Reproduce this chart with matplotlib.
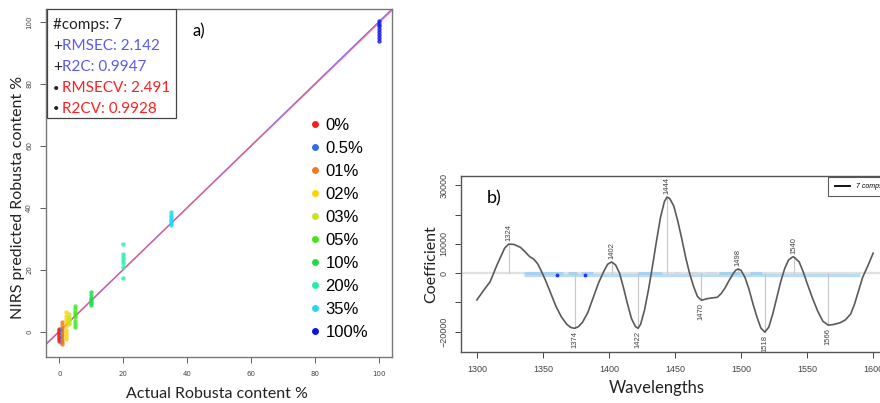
import matplotlib
matplotlib.use("Agg")
import matplotlib.pyplot as plt
from matplotlib.lines import Line2D
from matplotlib.patches import Rectangle

# --- panel a: predicted vs actual ---
conc_labels = ["0%", "0.5%", "01%", "02%", "03%", "05%", "10%", "20%", "35%", "100%"]
conc_actual = [0, 0.5, 1, 2, 3, 5, 10, 20, 35, 100]
conc_colors = ["#ff1a1a", "#2f6fe0", "#f57a1c", "#ffd200", "#c4e81c", "#3ee81a",
               "#1fdc48", "#1ff0a8", "#1fd8f5", "#1010e8"]
pred_0 = [-3.0, -2.5, -2.0, -1.5, -1.0, -0.5, 0.0, 0.5, 1.0]
pred_05 = [-3.2, -2.6, -2.0, -1.4, -0.8, -0.2, 0.4, 0.9]
pred_1 = [-3.9, -3.2, -2.4, -1.2, 0.0, 1.2, 2.2, 3.2]
pred_2 = [-2.5, -1.5, -0.5, 0.5, 1.8, 3.0, 4.0, 5.0, 6.3]
pred_3 = [2.3, 3.0, 3.6, 4.2, 4.8, 5.6]
pred_5 = [1.6, 2.4, 3.4, 4.6, 5.6, 6.4, 7.2, 8.3]
pred_10 = [8.5, 9.2, 9.8, 10.4, 11.0, 11.8, 12.8]
pred_20 = [17.4, 21.0, 22.0, 23.0, 24.0, 25.2, 28.2]
pred_35 = [34.5, 35.2, 35.8, 36.4, 37.0, 37.7, 38.5]
pred_100 = [93.8, 94.8, 95.8, 96.8, 97.8, 98.8, 99.5, 100.3]
pred_values = [pred_0, pred_05, pred_1, pred_2, pred_3, pred_5, pred_10, pred_20, pred_35, pred_100]

stats_text = ["#comps: 7", "RMSEC: 2.142", "R2C: 0.9947", "RMSECV: 2.491", "R2CV: 0.9928"]
stats_prefix = ["", "+", "+", "\u2022", "\u2022"]
stats_colors = ["#222222", "#5a5aee", "#5a5aee", "#ff2020", "#ff2020"]

# --- panel b: regression coefficients ---
wavelength = [1300, 1305, 1310, 1315, 1318, 1321, 1324, 1328, 1333, 1336, 1340, 1343, 1346, 1349,
              1352, 1356, 1360, 1364, 1368, 1371, 1374, 1377, 1380, 1384, 1388, 1392, 1396, 1399,
              1402, 1405, 1408, 1411, 1414, 1417, 1420, 1422, 1424, 1427, 1430, 1433, 1436, 1439,
              1442, 1444, 1446, 1449, 1452, 1455, 1458, 1461, 1464, 1467, 1470, 1474, 1478, 1482,
              1485, 1488, 1491, 1494, 1496, 1498, 1500, 1503, 1506, 1509, 1512, 1515, 1518, 1521,
              1524, 1527, 1530, 1533, 1536, 1539, 1540, 1544, 1547, 1550, 1554, 1558, 1562, 1566,
              1570, 1575, 1579, 1583, 1586, 1589, 1592, 1596, 1600]
coef = [-9200, -6000, -3000, 2500, 5500, 8500, 9900, 9800, 8800, 7500, 5600, 4800, 3200, 500,
        -2500, -7000, -11500, -15000, -17500, -18600, -18900, -18300, -16800, -13500, -8500, -3500, 500, 3000,
        3800, 2800, 0, -5000, -10500, -15500, -18300, -18900, -17500, -12500, -5500, 2500, 11000, 19000,
        24500, 26000, 25500, 23000, 18000, 12000, 5500, 0, -4500, -8000, -9300, -8800, -8500, -8300,
        -7000, -5000, -2500, -200, 1000, 1400, 900, -1500, -5500, -10500, -15000, -18800, -20200, -18500,
        -14000, -8500, -3000, 1500, 4500, 5500, 5500, 3800, 500, -3500, -8500, -13000, -16500, -17800,
        -17600, -17000, -16000, -14000, -10500, -6000, -1500, 2500, 6800]
peak_wl = [1324, 1374, 1402, 1422, 1444, 1470, 1498, 1518, 1540, 1566]
sel_bands = [(1336, 1365), (1369, 1376), (1379, 1388), (1422, 1440), (1483, 1499), (1507, 1516)]
grey_bands = [(1449, 1454), (1458, 1468), (1473, 1481)]
marked_wl = [1361, 1382]

R_FONT = "Liberation Sans"
WORD_FONT = "Lato"

fig = plt.figure(figsize=(8.8, 4.03), dpi=100)
W, H = 880, 403


def box(x0, y0, x1, y1):
    return [x0 / W, 1 - y1 / H, (x1 - x0) / W, (y1 - y0) / H]


# ================= panel a =================
ax = fig.add_axes(box(46, 9, 392, 357))
ax.set_xlim(-4.16, 104.16)
ax.set_ylim(-8.2, 104.2)
ax.plot([-5, 105], [-5, 105], color="#7070ff", lw=1.0, zorder=2)
ax.plot([-5, 105], [-4.8, 104.6], color="#ff5a6e", lw=1.0, alpha=0.75, zorder=2)
for xv, ys, c in zip(conc_actual, pred_values, conc_colors):
    ax.scatter([xv] * len(ys), ys, s=10, color=c, alpha=0.8, linewidths=0, zorder=3)

ax.set_xticks([0, 20, 40, 60, 80, 100])
ax.set_yticks([0, 20, 40, 60, 80, 100])
ax.tick_params(labelsize=5, colors="#444444", length=4, width=0.6, pad=6)
for lab in ax.get_yticklabels():
    lab.set_rotation(90)
    lab.set_va("center")
for s in ax.spines.values():
    s.set_color("#777777")
    s.set_linewidth(1.0)

# stats box, top left
ax.add_patch(Rectangle((0.003, 0.687), 0.373, 0.313, transform=ax.transAxes,
                       facecolor="white", edgecolor="#444444", lw=0.9, zorder=5))
for i, (pre, txt, c) in enumerate(zip(stats_prefix, stats_text, stats_colors)):
    yy = 25 + i * 21
    if pre == "":
        fig.text(53 / W, 1 - yy / H, txt, color=c, fontsize=11, family=WORD_FONT,
                 va="center", ha="left", zorder=6)
    else:
        fig.text(53 / W, 1 - yy / H, pre, color="#222222",
                 fontsize=11 if pre == "+" else 8, family=WORD_FONT,
                 va="center", ha="left", zorder=6)
        fig.text(62 / W, 1 - yy / H, txt, color=c, fontsize=11, family=WORD_FONT,
                 va="center", ha="left", zorder=6)

fig.text(192 / W, 1 - 31 / H, "a)", fontsize=12, family=WORD_FONT, va="center", ha="left")

handles = [Line2D([], [], ls="none", marker="o", markersize=5, markeredgewidth=0, color=c)
           for c in conc_colors]
leg = ax.legend(handles, conc_labels, loc="upper left", bbox_to_anchor=(0.74, 0.71),
                frameon=False, prop={"family": R_FONT, "size": 12}, handlelength=0.6,
                handletextpad=0.3, labelspacing=0.48, borderpad=0)

fig.text(18 / W, 1 - 197 / H, "NIRS predicted Robusta content %", rotation=90,
         fontsize=11.5, family=WORD_FONT, color="#222222", va="center", ha="center")
fig.text(217 / W, 1 - 394 / H, "Actual Robusta content %",
         fontsize=11.5, family=WORD_FONT, color="#222222", va="center", ha="center")

# ================= panel b =================
bx = fig.add_axes(box(461, 176, 889, 352))
bx.set_xlim(1288, 1612)
bx.set_ylim(-27000, 33200)
bx.axhline(0, color="#e2e2e2", lw=1.6, zorder=1)
bx.plot([sel_bands[0][0], 1590], [-600, -600], color="#bcdcf2", lw=2.4,
        solid_capstyle="butt", zorder=2)
for a, b in sel_bands:
    bx.plot([a, b], [-100, -100], color="#a9d2ef", lw=2.2, solid_capstyle="butt", zorder=2)
for a, b in grey_bands:
    bx.plot([a, b], [-100, -100], color="#cfdae3", lw=2.2, solid_capstyle="butt", zorder=2)
bx.scatter(marked_wl, [-700] * len(marked_wl), s=3, color="#2233ff", zorder=3)

coef_at = dict(zip(wavelength, coef))
for p in peak_wl:
    v = coef_at[p]
    bx.plot([p, p], [0, v], color="#c8c8c8", lw=0.8, zorder=2)
    if v > 0:
        bx.text(p, v + 900, str(p), rotation=90, fontsize=5.5, family=R_FONT,
                color="#444444", ha="center", va="bottom")
    else:
        bx.text(p, v - 900, str(p), rotation=90, fontsize=5.5, family=R_FONT,
                color="#444444", ha="center", va="top")
bx.plot(wavelength, coef, color="#5a5a5a", lw=1.2, zorder=4, label="7 comps")

bx.set_xticks([1300, 1350, 1400, 1450, 1500, 1550, 1600])
bx.set_yticks([-20000, -10000, 0, 10000, 20000, 30000])
bx.set_yticklabels(["\u221220000", "", "0", "10000", "", "30000"])
bx.tick_params(labelsize=6.5, colors="#444444", length=4, width=0.7, pad=5)
for lab in bx.get_xticklabels() + bx.get_yticklabels():
    lab.set_family(R_FONT)
for lab in bx.get_yticklabels():
    lab.set_rotation(90)
    lab.set_va("center")
for s in bx.spines.values():
    s.set_color("#555555")
    s.set_linewidth(1.0)

lg = bx.legend(loc="upper right", frameon=True, fancybox=False, borderaxespad=0.1,
               prop={"family": R_FONT, "size": 5, "style": "italic"}, handlelength=2.2,
               borderpad=0.9)
lg.get_frame().set_edgecolor("#333333")
lg.get_frame().set_linewidth(0.8)
lg.get_lines()[0].set_color("black")
lg.get_lines()[0].set_linewidth(1.3)

fig.text(487 / W, 1 - 198 / H, "b)", fontsize=13, family=WORD_FONT, va="center", ha="left")
fig.text(431 / W, 1 - 264 / H, "Coefficient", rotation=90,
         fontsize=11.5, family=WORD_FONT, color="#222222", va="center", ha="center")
fig.text(657 / W, 1 - 388 / H, "Wavelengths",
         fontsize=12, family=WORD_FONT, color="#222222", va="center", ha="center")

fig.savefig("out.png", dpi=100)
